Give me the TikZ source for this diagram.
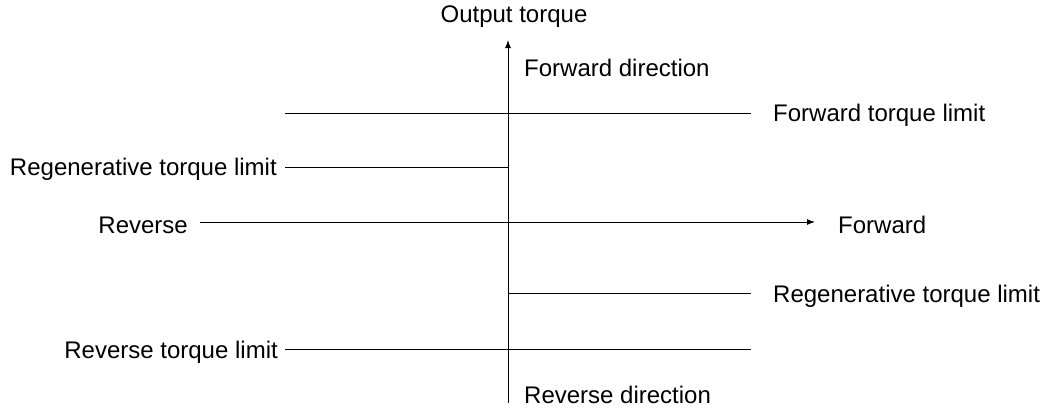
\documentclass[tikz,border=0pt]{standalone}
\usepackage{fontspec}
\setmainfont{Liberation Sans}
\usetikzlibrary{arrows.meta}
\begin{document}
\begin{tikzpicture}[x=1pt,y=-1pt,
  lbl/.style={inner sep=0pt,font=\fontsize{24}{28}\selectfont},
  ln/.style={line width=1pt,black},
  ax/.style={line width=1pt,black,-{Latex[length=8pt,width=6pt]}}]
\useasboundingbox (0,0) rectangle (1044,408);
% axes
\coordinate (vb) at (508,403);
\coordinate (vt) at (508,40);
\coordinate (hl) at (200,222);
\coordinate (hr) at (815,222);
\draw[ax] (vb) -- (vt);
\draw[ax] (hl) -- (hr);
% limit lines
\coordinate (ftl) at (285,113);
\coordinate (ftr) at (751,113);
\coordinate (rgl) at (285,167);
\coordinate (rgm) at (508,167);
\coordinate (rrm) at (508,293);
\coordinate (rrr) at (751,293);
\coordinate (rtl) at (285,349);
\coordinate (rtr) at (751,349);
\draw[ln] (ftl) -- (ftr);
\draw[ln] (rgl) -- (rgm);
\draw[ln] (rrm) -- (rrr);
\draw[ln] (rtl) -- (rtr);
% labels
\node[lbl,anchor=base] (ot) at (514,22) {Output torque};
\node[lbl,anchor=base west] (fd) at (524,76) {Forward direction};
\node[lbl,anchor=base west] (rd) at (524,403) {Reverse direction};
\node[lbl,anchor=base west] (ftlab) at (773,121) {Forward torque limit};
\node[lbl,anchor=base east] (rglab) at (277,175) {Regenerative torque limit};
\node[lbl,anchor=base east] (rvlab) at (188,233) {Reverse};
\node[lbl,anchor=base west] (fwlab) at (838,233) {Forward};
\node[lbl,anchor=base west] (rrlab) at (773,302) {Regenerative torque limit};
\node[lbl,anchor=base east] (rtlab) at (278,358) {Reverse torque limit};
\end{tikzpicture}
\end{document}
